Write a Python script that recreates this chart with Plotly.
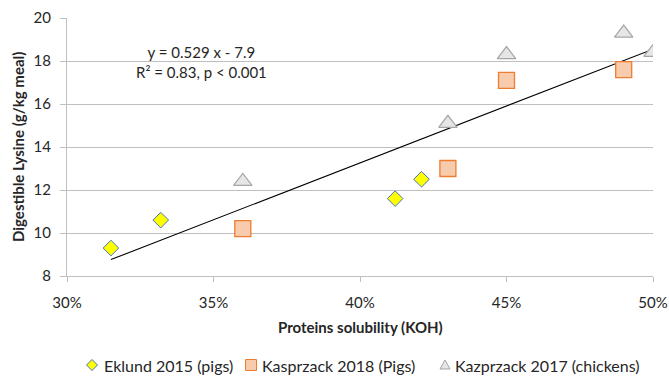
import plotly.graph_objects as go

# Protein solubility (KOH, %) vs digestible lysine (g/kg meal)
eklund_x = [31.5, 33.2, 41.2, 42.1]
eklund_y = [9.3, 10.6, 11.6, 12.5]

kasp2018_x = [36.0, 43.0, 45.0, 49.0]
kasp2018_y = [10.2, 13.0, 17.1, 17.6]

kasp2017_x = [36.0, 43.0, 45.0, 49.0, 50.0]
kasp2017_y = [12.4, 15.1, 18.3, 19.3, 18.4]

series_names = ["Eklund 2015 (pigs)", "Kasprzack 2018 (Pigs)", "Kazprzack 2017 (chickens)"]

# Linear fit reported on the chart
slope = 0.529
intercept = -7.9

x_ticks = [30, 35, 40, 45, 50]
y_ticks = [8, 10, 12, 14, 16, 18, 20]

all_x = eklund_x + kasp2018_x + kasp2017_x
fit_x = [min(all_x), max(all_x)]
fit_y = [slope * v + intercept for v in fit_x]

FONT = "Lato"
TXT = "#262626"
W, H = 669, 376
ML, MR, MT, MB = 67, 16, 18, 100
PW, PH = W - ML - MR, H - MT - MB

STYLES = [
    dict(fill="#FFFF00", edge="#4472C4"),
    dict(fill="#F8CBAD", edge="#ED7D31"),
    dict(fill="#E7E6E6", edge="#A5A5A5"),
]


def px(x):
    """page pixel x -> paper fraction"""
    return (x - ML) / PW


def py(y):
    """page pixel y -> paper fraction"""
    return (H - MB - y) / PH


fig = go.Figure()

fig.add_trace(go.Scatter(
    x=fit_x, y=fit_y, mode="lines",
    line=dict(color="black", width=1.1),
    hoverinfo="skip",
))

fig.add_trace(go.Scatter(
    x=eklund_x, y=eklund_y, mode="markers", name=series_names[0],
    marker=dict(symbol="diamond", size=12, color=STYLES[0]["fill"],
                line=dict(color=STYLES[0]["edge"], width=1)),
))
fig.add_trace(go.Scatter(
    x=kasp2018_x, y=kasp2018_y, mode="markers", name=series_names[1],
    marker=dict(symbol="square", size=16, color=STYLES[1]["fill"],
                line=dict(color=STYLES[1]["edge"], width=1.3)),
))
fig.add_trace(go.Scatter(
    x=kasp2017_x, y=kasp2017_y, mode="markers", name=series_names[2],
    marker=dict(symbol="triangle-up", size=16, color=STYLES[2]["fill"],
                line=dict(color=STYLES[2]["edge"], width=1.2)),
))

# Legend row drawn below the axis title: small symbols + labels
legend_y = 365
legend_sym_x = [92, 251, 445]
legend_txt_x = [102, 260, 453]
legend_paths = [
    "M-5.5,0 L0,5.5 L5.5,0 L0,-5.5 Z",
    "M-5.5,-5.5 L5.5,-5.5 L5.5,5.5 L-5.5,5.5 Z",
    "M-5,-4 L5,-4 L0,5 Z",
]
shapes = []
annotations = []
for name, sx, tx, path, st in zip(series_names, legend_sym_x, legend_txt_x, legend_paths, STYLES):
    shapes.append(dict(
        type="path", xref="paper", yref="paper",
        xsizemode="pixel", ysizemode="pixel",
        xanchor=px(sx), yanchor=py(legend_y), path=path,
        fillcolor=st["fill"], line=dict(color=st["edge"], width=1),
    ))
    annotations.append(dict(
        text=name, xref="paper", yref="paper", x=px(tx), y=py(legend_y),
        xanchor="left", yanchor="middle", showarrow=False,
        font=dict(family=FONT, size=16, color=TXT),
    ))

annotations += [
    dict(text="y = 0.529 x - 7.9<br>R² = 0.83, p < 0.001",
         xref="paper", yref="paper", x=px(201), y=py(62),
         xanchor="center", yanchor="middle", showarrow=False,
         font=dict(family=FONT, size=15, color=TXT), align="center"),
    dict(text="<b>Proteins solubility (KOH)</b>",
         xref="paper", yref="paper", x=px(360), y=py(327),
         xanchor="center", yanchor="middle", showarrow=False,
         font=dict(family=FONT, size=15, color=TXT)),
    dict(text="<b>Digestible Lysine (g/kg meal)</b>",
         xref="paper", yref="paper", x=px(18), y=0.5,
         xanchor="center", yanchor="middle", showarrow=False, textangle=-90,
         font=dict(family=FONT, size=15, color=TXT)),
]

fig.update_layout(
    width=W, height=H,
    margin=dict(l=ML, r=MR, t=MT, b=MB),
    paper_bgcolor="white", plot_bgcolor="white",
    font=dict(family=FONT, size=15, color=TXT),
    showlegend=False,
    shapes=shapes,
    annotations=annotations,
)

fig.update_xaxes(
    range=[30, 50], tickvals=x_ticks, ticktext=[f"{v}%" for v in x_ticks],
    showgrid=False, zeroline=False, automargin=False,
    showline=True, linecolor="#BFBFBF", linewidth=1,
    ticks="outside", ticklen=5, tickcolor="#BFBFBF",
    ticklabelstandoff=8,
    tickfont=dict(family=FONT, size=15, color=TXT),
)
fig.update_yaxes(
    range=[8, 20], tickvals=y_ticks,
    showgrid=True, gridcolor="#BFBFBF", gridwidth=1, zeroline=False,
    automargin=False,
    showline=True, linecolor="#BFBFBF", linewidth=1,
    ticks="outside", ticklen=6, tickcolor="#BFBFBF",
    ticklabelstandoff=6,
    tickfont=dict(family=FONT, size=15, color=TXT),
)

fig.write_html("out.html")
